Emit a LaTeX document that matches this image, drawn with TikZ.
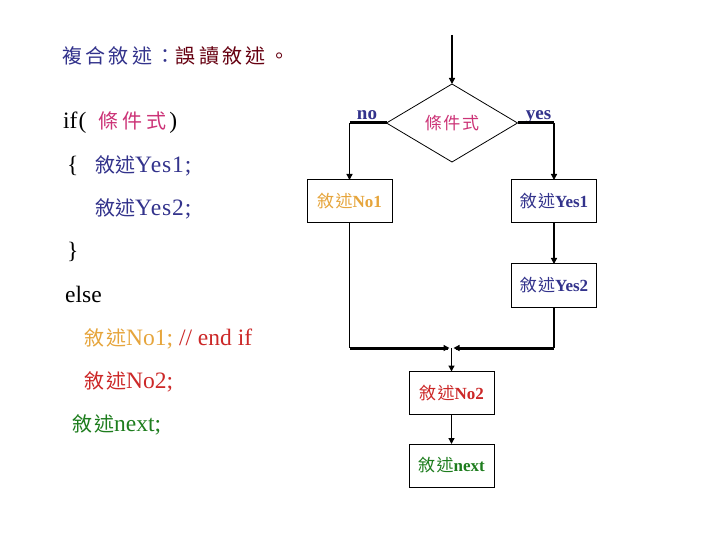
\documentclass[tikz,border=0pt]{standalone}
\usepackage{fontspec}
\setmainfont{Liberation Serif}
\newfontfamily\cjk{Noto Sans CJK TC}
\newfontfamily\cjkt[LetterSpace=17]{Noto Sans CJK TC}
\newfontfamily\cjkw[LetterSpace=10]{Noto Sans CJK TC}
\newfontfamily\cjkc[LetterSpace=20]{Noto Sans CJK TC}
\newfontfamily\cjkb[LetterSpace=8]{Noto Sans CJK TC}
\newfontfamily\spc[LetterSpace=4]{Liberation Serif}
\usetikzlibrary{arrows.meta,shapes.geometric}
\definecolor{navy}{RGB}{51,51,140}
\definecolor{dred}{RGB}{102,0,17}
\definecolor{mag}{RGB}{204,51,119}
\definecolor{gold}{RGB}{230,165,60}
\definecolor{cred}{RGB}{204,40,40}
\definecolor{cgreen}{RGB}{30,125,30}
\newcommand\cjksz{\fontsize{20bp}{24bp}\selectfont}
\newcommand\boxcjk{\fontsize{17bp}{20bp}\selectfont\mdseries}
\tikzset{
  code/.style={anchor=base west,inner sep=0pt,font=\fontsize{23.5bp}{26bp}\selectfont},
  box/.style={draw=black,line width=1bp,fill=white,minimum width=85bp,minimum height=43bp,inner sep=0pt,outer sep=0pt,font=\fontsize{17bp}{20bp}\selectfont\bfseries},
  cond/.style={draw=black,line width=0.8bp,diamond,minimum width=131bp,minimum height=78bp,inner sep=0pt,outer sep=0pt,font=\fontsize{17bp}{20bp}\selectfont},
  thin/.style={line width=1.3bp},
  arr/.style={line width=1.3bp,-{Triangle[width=6bp,length=6bp]}},
  thickl/.style={line width=3bp},
  lab/.style={anchor=base,inner sep=0pt,text=navy,font=\fontsize{19bp}{22bp}\selectfont\bfseries}
}
\begin{document}
\begin{tikzpicture}[x=1bp,y=-1bp]
\useasboundingbox[fill=white] (0,0) rectangle (720,540);
% left code text
\node[code] (title) at (62,64) {\cjksz\cjkt\textcolor{navy}{複合敘述：}\textcolor{dred}{誤讀敘述。}};
\node[code] (lif) at (63,129) {if\kern1bp(\kern12bp\textcolor{mag}{\cjksz\cjkc 條件式}\kern3bp)};
\node[code] (lob) at (67,173) {\{};
\node[code] (ly1) at (95,173) {\color{navy}{\cjksz\cjk 敘述}\spc Yes1;};
\node[code] (ly2) at (95,216) {\color{navy}{\cjksz\cjk 敘述}\spc Yes2;};
\node[code] (lcb) at (67,259) {\}};
\node[code] (lelse) at (65,302) {else};
\node[code] (ln1) at (84,345) {\textcolor{gold}{{\cjksz\cjkw 敘述}No1;} \textcolor{cred}{// end if}};
\node[code] (ln2) at (84,388) {\color{cred}{\cjksz\cjkw 敘述}No2;};
\node[code] (lnext) at (72,431) {\color{cgreen}{\cjksz\cjkw 敘述}next;};
% flowchart
\coordinate (start) at (452,35);
\node[cond] (c) at (452,123) {\textcolor{mag}{\cjkw 條件式}};
\node[box] (no1) at (349.5,201.5) {\textcolor{gold}{{\boxcjk\cjkb 敘述}No1}};
\node[box] (yes1) at (554,201.5) {\textcolor{navy}{{\boxcjk\cjkb 敘述}Yes1}};
\node[box] (yes2) at (554,285.5) {\textcolor{navy}{{\boxcjk\cjkb 敘述}Yes2}};
\node[box] (no2) at (451.5,393) {\textcolor{cred}{{\boxcjk\cjkb 敘述}No2}};
\node[box] (next) at (451.5,465.5) {\textcolor{cgreen}{{\boxcjk\cjkb 敘述}next}};
\node[lab] (lno) at (367,120) {no};
\node[lab] (lyes) at (538.5,120) {yes};
\coordinate (nl) at (c.west -| no1.north);
\coordinate (yr) at (c.east -| yes1.north);
\coordinate (merge) at (451.5,348);
\coordinate (nb) at (no1.south |- merge);
\coordinate (yb) at (yes2.south |- merge);
\draw[arr] (start) -- (c.north);
\draw[thickl] (c.west) -- (nl);
\draw[arr] (nl) -- (no1.north);
\draw[thickl] (c.east) -- (yr);
\draw[arr] (yr) -- (yes1.north);
\draw[arr] (yes1) -- (yes2);
\draw[thin] (no1.south) -- (nb);
\draw[thickl] (nb) -- ([xshift=-4bp]merge);
\draw[thin] (yes2.south) -- (yb);
\draw[thickl] (yb) -- ([xshift=4bp]merge);
\draw[arr] ([xshift=-10bp]merge) -- ([xshift=-2bp]merge);
\draw[arr] ([xshift=10bp]merge) -- ([xshift=2bp]merge);
\draw[arr] (merge) -- (no2.north);
\draw[arr] (no2) -- (next);
\end{tikzpicture}
\end{document}
